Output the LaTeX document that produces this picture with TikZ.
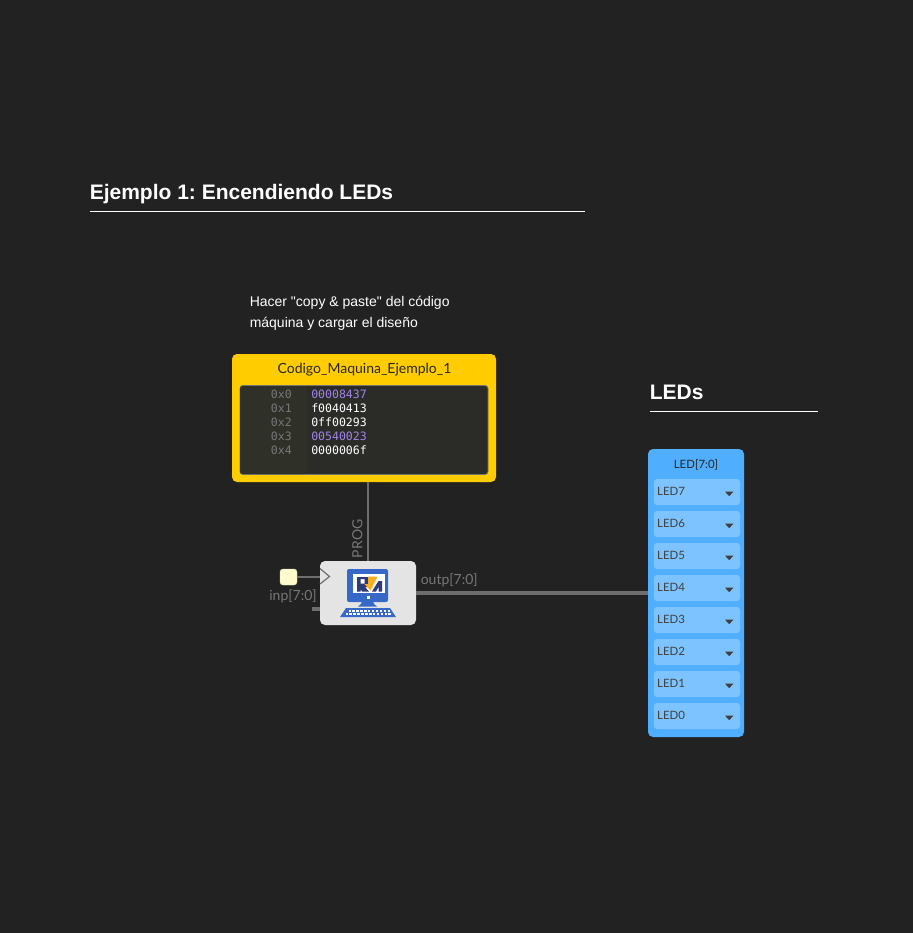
\documentclass[tikz,border=0pt]{standalone}
\usepackage{fontspec}
\usepackage{xcolor}
\newfontfamily\labelfont{Lato}
\newfontfamily\titlefont{Liberation Sans}
\newfontfamily\codefont{DejaVu Sans Mono}
\usetikzlibrary{positioning}
\definecolor{bgdark}{HTML}{222222}
\definecolor{wiregray}{HTML}{6E6E6E}
\definecolor{labelgray}{HTML}{777777}
\definecolor{memyellow}{HTML}{FFCC00}
\definecolor{memdark}{HTML}{2B2C27}
\definecolor{memgutter}{HTML}{2F3129}
\definecolor{hexpurple}{HTML}{A182EA}
\definecolor{cpugray}{HTML}{E4E4E4}
\definecolor{pincream}{HTML}{FFFBCC}
\definecolor{ledblue}{HTML}{50AEFF}
\definecolor{ledrow}{HTML}{7CC3FF}
\definecolor{icondark}{HTML}{2F3A78}
\definecolor{iconblue}{HTML}{3768C8}
\definecolor{iconorange}{HTML}{F8B020}
\begin{document}
\frenchspacing
\begin{tikzpicture}[x=0.75pt, y=-0.75pt, node distance=24pt]
    % Define styles
    \tikzstyle{heading} = [inner sep=0pt, anchor=base west, text=white, font=\titlefont\bfseries\fontsize{15.75}{18}\selectfont]
    \tikzstyle{note} = [inner sep=0pt, anchor=base west, text=white, font=\titlefont\fontsize{10.5}{12}\selectfont]
    \tikzstyle{rule} = [draw=white, line width=0.75pt]
    \tikzstyle{memory} = [rectangle, fill=memyellow, minimum width=198pt, minimum height=96pt, rounded corners=3.75pt]
    \tikzstyle{memtitle} = [inner sep=0pt, anchor=base, text=black!85, font=\labelfont\fontsize{10.5}{12}\selectfont]
    \tikzstyle{addr} = [inner sep=0pt, anchor=base east, text=labelgray, font=\codefont\fontsize{8.65}{10}\selectfont]
    \tikzstyle{hexval} = [inner sep=0pt, anchor=base west, font=\codefont\fontsize{8.65}{10}\selectfont]
    \tikzstyle{cpu} = [rectangle, fill=cpugray, minimum width=72pt, minimum height=48pt, inner sep=0pt, rounded corners=3.75pt]
    \tikzstyle{pin} = [rectangle, fill=pincream, draw=pincream!70!gray, line width=0.3pt, minimum width=12.75pt, minimum height=12pt, inner sep=0pt, rounded corners=2.25pt]
    \tikzstyle{wire} = [draw=wiregray, line width=1.5pt]
    \tikzstyle{bus} = [draw=wiregray, line width=3.4pt]
    \tikzstyle{wirelabel} = [inner sep=0pt, text=labelgray, font=\labelfont\fontsize{10.5}{12}\selectfont]
    \tikzstyle{ledpanel} = [rectangle, fill=ledblue, minimum width=72pt, minimum height=216pt, rounded corners=3.75pt]
    \tikzstyle{ledslot} = [rectangle, fill=ledrow, minimum width=64.5pt, minimum height=19.5pt, inner sep=0pt, rounded corners=2.25pt]
    \tikzstyle{ledname} = [inner sep=0pt, anchor=base west, text=black!75, font=\labelfont\fontsize{8.6}{10}\selectfont]

    % Page
    \path[fill=bgdark, use as bounding box] (0,0) rectangle (913,933);

    % Headings
    \node [heading] (title) at (89.5,199) {Ejemplo 1: Encendiendo LEDs};
    \coordinate (titleend) at (585,211.5);
    \draw [rule] (title.west |- titleend) -- (titleend);
    \node [note] (noteone) at (249.5,306) {Hacer "copy \& paste" del código};
    \node [note] (notetwo) at (249.5,327) {máquina y cargar el diseño};
    \node [heading] (ledtitle) at (649.5,399) {LEDs};
    \coordinate (ledend) at (818,411.5);
    \draw [rule] (ledtitle.west |- ledend) -- (ledend);

    % Code memory
    \node [memory] (mem) at (364,418) {};
    \node [memtitle] (memname) at (364.5,373) {Codigo\_Maquina\_Ejemplo\_1};
    \node [rectangle, fill=memdark, draw=black!10!gray, line width=0.6pt, minimum width=186pt, minimum height=66.75pt, inner sep=0pt, rounded corners=2.25pt] (memview) at (364,430) {};
    \fill [memgutter, rounded corners=2pt] (240,386) rectangle (307,474);
    \foreach \i/\addrtext/\hextext/\hexcol in {0/0x0/00008437/hexpurple, 1/0x1/f0040413/white, 2/0x2/0ff00293/white, 3/0x3/00540023/hexpurple, 4/0x4/0000006f/white} {
        \node [addr] (addr\i) at (292,398+14*\i) {\addrtext};
        \node [hexval, text=\hexcol] (hex\i) at (311,398+14*\i) {\hextext};
    }

    % Processor
    \node [cpu] (proc) at (368,593) {};
    \node [pin] (inp) at (288.5,577) {};
    \coordinate (inpstub) at (312,609);
    \fill [cpugray, draw=wiregray, line width=0.9pt] (320,568.5) -- (329.5,576.5) -- (320,584);

    % Monitor icon
    \fill [iconblue, rounded corners=1.5pt] (347,569) rectangle (388,602);
    \fill [iconblue] (362,601) -- (373,601) -- (374,604) -- (377,606.5) -- (358,606.5) -- (361,604) -- cycle;
    \fill [iconblue] (346,608) -- (390,608) -- (396,617) -- (340,617) -- cycle;
    \foreach \k in {0,...,10} {
        \fill [white] (348.5+3.9*\k,610) rectangle ++(2.4,1.5);
    }
    \foreach \k in {0,...,11} {
        \fill [white] (345.5+3.9*\k,613) rectangle ++(2.6,1.5);
    }
    \fill [white] (353,574) rectangle (385,592.5);
    \fill [icondark, even odd rule] (357,577) -- (368,577) -- (368,587) -- (365,587) -- (369,591.5) -- (362,591.5) -- (360.5,589) -- (360.5,591.5) -- (357,591.5) -- cycle (360.5,579) rectangle (364.5,583.5);
    \fill [iconorange] (368,576.5) -- (377.5,576.5) -- (370.5,590.5) -- (364.5,584) -- (368,584) -- cycle;
    \fill [icondark] (378.5,581) -- (382,581) -- (382,591.5) -- (378.5,591.5) -- (378.5,587) -- (376,591.5) -- (372,591.5) -- cycle;
    \fill [white] (367,596) rectangle (369.5,598.5);

    % LED panel
    \node [ledpanel] (leds) at (696,593) {};
    \node [memtitle] (ledsname) at (696,468) {\fontsize{8.6}{10}\selectfont LED[7:0]};
    \node [ledslot] (slot7) at (697,492) {};
    \foreach \n/\prev in {6/7,5/6,4/5,3/4,2/3,1/2,0/1} {
        \node [ledslot, below of=slot\prev] (slot\n) {};
    }
    \foreach \n in {7,...,0} {
        \node [ledname] (ledname\n) at ([xshift=2.4pt, yshift=-2.7pt]slot\n.west) {LED\n};
        \fill [black!75] ([xshift=-11.5pt, yshift=0.3pt]slot\n.east) -- ++(6.4pt,0) -- ++(-3.2pt,-3.4pt) -- cycle;
    }

    % Wires
    \draw [wire] (mem.south -| proc.north) -- (proc.north) node[pos=0.72, wirelabel, rotate=90, yshift=8pt] (proglabel) {PROG};
    \draw [wire, line width=1pt] (inp.east) -- (proc.west |- inp);
    \draw [bus] (inpstub) -- (proc.west |- inpstub);
    \node [wirelabel] (inplabel) at (293,596.5) {inp[7:0]};
    \draw [bus, yshift=-0.4pt] (proc.east) -- (leds.west);
    \node [wirelabel, anchor=west] (outlabel) at (420.5,580.5) {outp[7:0]};
\end{tikzpicture}
\end{document}
